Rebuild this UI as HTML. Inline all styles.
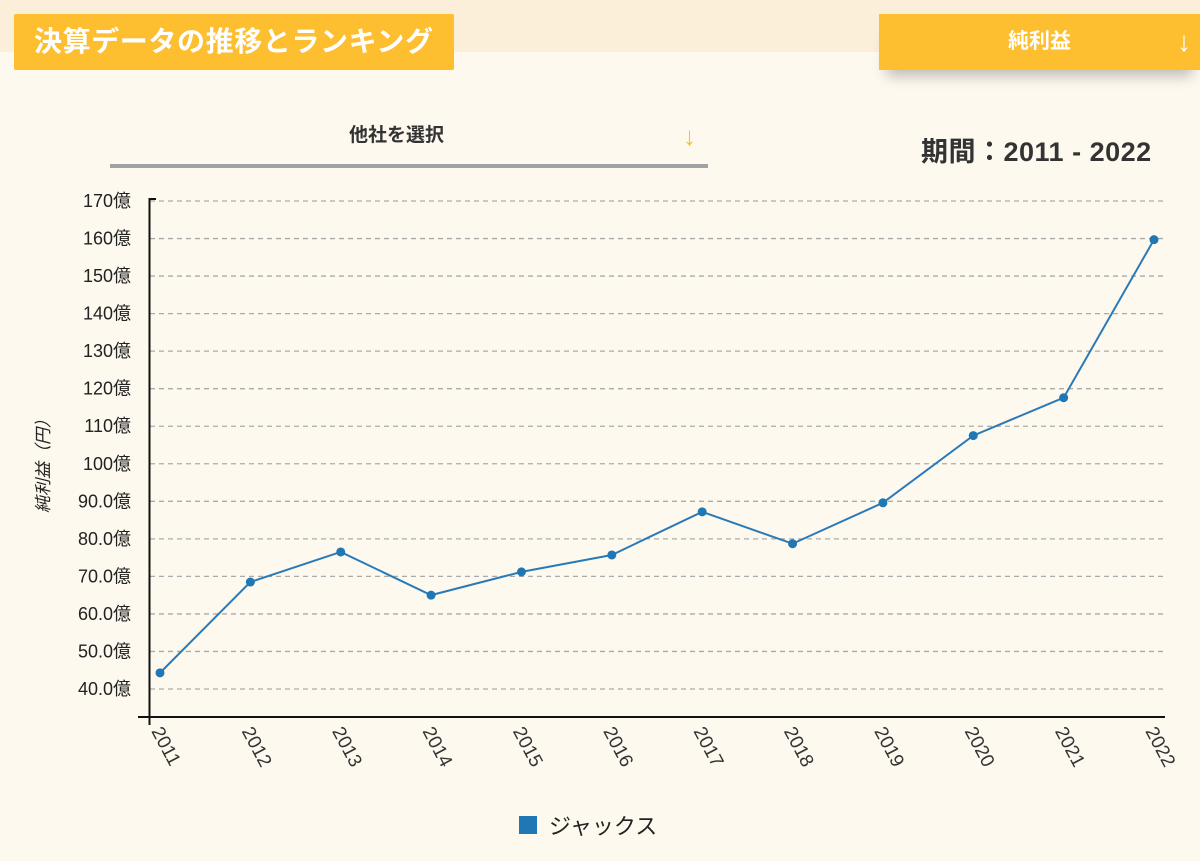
<!DOCTYPE html>
<html><head><meta charset="utf-8"><style>
body{margin:0;width:1200px;height:861px;overflow:hidden;background:#fdf9ef;font-family:"Liberation Sans","Noto Sans CJK JP",sans-serif;position:relative}
.band{position:absolute;left:0;top:0;width:1200px;height:52px;background:#fcefd9}
.title{position:absolute;left:14px;top:14px;width:440px;height:56px;background:#fdbe2f;color:#fff;font-weight:bold;font-size:28px;letter-spacing:0.6px;line-height:56px;text-indent:20px;border-radius:2px}
.metric{position:absolute;left:879px;top:14px;width:321px;height:56px;background:#fdbe2f;color:#fff;font-weight:bold;font-size:21px;line-height:56px;box-shadow:0 14px 14px -8px rgba(0,0,0,.25)}
.sel{position:absolute;left:110px;top:110px;width:598px;height:54px;border-bottom:4px solid #a0a3a6;color:#333;font-weight:bold;font-size:19px}
.period{position:absolute;left:921px;top:130px;font-size:27px;letter-spacing:0.5px;font-weight:bold;color:#333}
</style></head><body>
<div class="band"></div>
<div class="title">決算データの推移とランキング</div>
<div class="metric"><span style="position:absolute;left:129px">純利益</span><span style="position:absolute;left:298px;font-size:28px;font-weight:900">↓</span></div>
<div class="sel"><span style="position:absolute;left:239px;top:10px">他社を選択</span><span style="position:absolute;left:573px;top:11px;color:#fdbe2f;font-size:26px;font-weight:900">↓</span></div>
<div class="period">期間：2011 - 2022</div>
<svg id="chart" width="1200" height="861" style="position:absolute;left:0;top:0"></svg>
<script>
const years=["2011","2012","2013","2014","2015","2016","2017","2018","2019","2020","2021","2022"];
const values=[44.3,68.5,76.5,65,71.2,75.7,87.2,78.7,89.6,107.5,117.6,159.7];
const yTicks=[40,50,60,70,80,90,100,110,120,130,140,150,160,170];
const yTickLabels=["40.0億","50.0億","60.0億","70.0億","80.0億","90.0億","100億","110億","120億","130億","140億","150億","160億","170億"];
const NS="http://www.w3.org/2000/svg";
const svg=document.getElementById('chart');
const y=v=>689-(v-40)*(689-201)/130;
const x=i=>160+i*(1154-160)/11;
function mk(t,a,p){const e=document.createElementNS(NS,t);for(const k in a)e.setAttribute(k,a[k]);(p||svg).appendChild(e);return e;}
yTicks.forEach((v,i)=>{
 const g=mk('line',{x1:150,x2:1165,y1:y(v),y2:y(v),stroke:'#aaa','stroke-dasharray':'5,4','stroke-width':1.3});
 
 
 const t=mk('text',{x:131,y:y(v)+6,'text-anchor':'end','font-size':18,fill:'#222'});
 t.textContent=yTickLabels[i];
 
 
});
mk('line',{x1:149,x2:156,y1:199,y2:199,stroke:'#111','stroke-width':2});
const ax=mk('line',{x1:149.5,x2:149.5,y1:198,y2:725,stroke:'#111','stroke-width':2});


const bx=mk('line',{x1:138,x2:1165,y1:717,y2:717,stroke:'#111','stroke-width':2});


years.forEach((yr,i)=>{
 const t=mk('text',{x:0,y:0,'font-size':19,fill:'#333',transform:`translate(${x(i)-9},${731}) rotate(62)`});
 t.textContent=yr;
 
 
});
const yt=mk('text',{x:0,y:0,'font-size':17,fill:'#222','text-anchor':'middle',transform:'translate(49,462) rotate(-90)','font-style':'italic'});
yt.textContent='純利益（円）';


const line=mk('polyline',{points:values.map((v,i)=>x(i)+','+y(v)).join(' '),fill:'none',stroke:'#2a7ab8','stroke-width':2});


values.forEach((v,i)=>{
 const c=mk('circle',{cx:x(i),cy:y(v),r:4.5,fill:'#1f77b4'});
 
 
});
const lr=mk('rect',{x:519,y:816,width:18,height:18,fill:'#1f77b4'});


const lt=mk('text',{x:549,y:834,'font-size':22,fill:'#222'});
lt.textContent='ジャックス';


</script>
</body></html>
